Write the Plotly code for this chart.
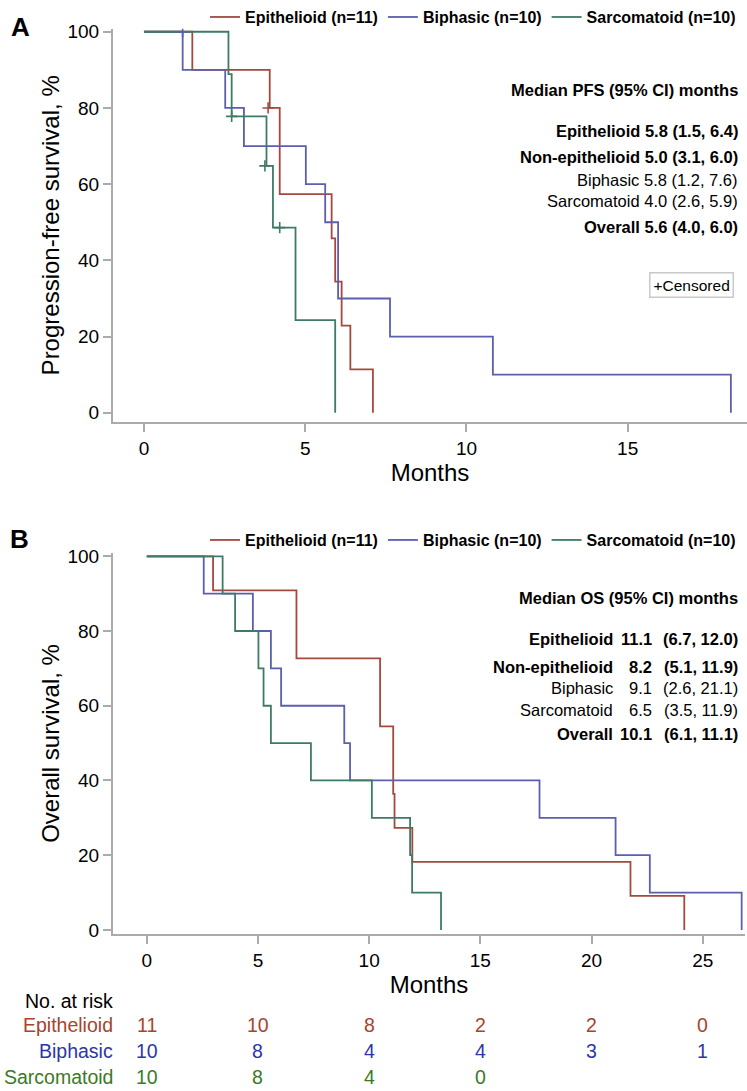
import plotly.graph_objects as go

# ---------------- data ----------------
# Progression-free survival (panel A): step times (months) and survival (%)
pfs_epi_t = [0, 1.5, 3.9, 4.21, 5.82, 5.93, 6.13, 6.4, 7.1]
pfs_epi_s = [100, 90, 80, 57.4, 45.8, 34.4, 22.9, 11.4, 0]
pfs_bi_t = [0, 1.2, 2.52, 3.1, 5.02, 5.62, 6.02, 7.63, 10.82, 18.2]
pfs_bi_s = [100, 90, 80, 70, 60, 50, 30, 20, 10, 0]
pfs_sa_t = [0, 2.62, 2.72, 3.8, 4.0, 4.7, 5.93]
pfs_sa_s = [100, 88.9, 77.8, 64.8, 48.6, 24.3, 0]

# censored observations (panel A)
cens_epi_t = [3.85]
cens_epi_s = [80]
cens_bi_t = [1.2]
cens_bi_s = [100]
cens_sa_t = [2.72, 3.75, 4.21]
cens_sa_s = [77.8, 64.8, 48.6]

# Overall survival (panel B)
os_epi_t = [0, 2.98, 6.73, 10.49, 11.08, 11.14, 11.94, 21.75, 24.17]
os_epi_s = [100, 90.9, 72.7, 54.5, 36.4, 27.3, 18.2, 9.1, 0]
os_bi_t = [0, 2.56, 4.77, 5.58, 6.04, 8.88, 9.14, 17.66, 21.08, 22.62, 26.75]
os_bi_s = [100, 90, 80, 70, 60, 50, 40, 30, 20, 10, 0]
os_sa_t = [0, 3.41, 3.97, 5.02, 5.25, 5.58, 7.38, 10.12, 11.84, 11.93, 13.23]
os_sa_s = [100, 90, 80, 70, 60, 50, 40, 30, 20, 10, 0]

group_names = ["Epithelioid (n=11)", "Biphasic (n=10)", "Sarcomatoid (n=10)"]

# numbers at risk (panel B)
risk_times = [0, 5, 10, 15, 20, 25]
risk_epi = [11, 10, 8, 2, 2, 0]
risk_bi = [10, 8, 4, 4, 3, 1]
risk_sa = [10, 8, 4, 0]
risk_labels = ["Epithelioid", "Biphasic", "Sarcomatoid"]

# median text blocks
pfs_title = "Median PFS (95% CI) months"
pfs_lines = ["Epithelioid 5.8 (1.5, 6.4)", "Non-epithelioid 5.0 (3.1, 6.0)",
             "Biphasic 5.8 (1.2, 7.6)", "Sarcomatoid 4.0 (2.6, 5.9)",
             "Overall 5.6 (4.0, 6.0)"]
os_title = "Median OS (95% CI) months"
os_names = ["Epithelioid", "Non-epithelioid", "Biphasic", "Sarcomatoid", "Overall"]
os_medians = ["11.1", "8.2", "9.1", "6.5", "10.1"]
os_cis = ["(6.7, 12.0)", "(5.1, 11.9)", "(2.6, 21.1)", "(3.5, 11.9)", "(6.1, 11.1)"]
row_bold = [True, True, False, False, True]

x_ticks_a = [0, 5, 10, 15]
x_ticks_b = [0, 5, 10, 15, 20, 25]
y_ticks = [0, 20, 40, 60, 80, 100]

# ---------------- styling ----------------
W, H = 747, 1091
ML, MR, MT, MB = 113, 0, 21, 157
PW, PH = W - ML - MR, H - MT - MB
FONT = "Arial, Liberation Sans, sans-serif"
COL = ["#a34a3e", "#5b5fae", "#3d7b68"]
RISK_COL = ["#a8442c", "#2c36a8", "#3b7a25"]
AX = "#ababab"


def py(p):  # pixel row -> paper y
    return 1 - (p - MT) / PH


def px(p):  # pixel column -> paper x
    return (p - ML) / PW


fig = go.Figure()

pfs = [(pfs_epi_t, pfs_epi_s), (pfs_bi_t, pfs_bi_s), (pfs_sa_t, pfs_sa_s)]
cens = [(cens_epi_t, cens_epi_s), (cens_bi_t, cens_bi_s), (cens_sa_t, cens_sa_s)]
oss = [(os_epi_t, os_epi_s), (os_bi_t, os_bi_s), (os_sa_t, os_sa_s)]

for i, (t, s) in enumerate(pfs):
    fig.add_trace(go.Scatter(x=t, y=s, mode="lines", line=dict(shape="hv", color=COL[i], width=1.8),
                             name=group_names[i], legend="legend", xaxis="x", yaxis="y"))
for i, (t, s) in enumerate(cens):
    fig.add_trace(go.Scatter(x=t, y=s, mode="markers", showlegend=False, xaxis="x", yaxis="y",
                             marker=dict(symbol="cross-thin", size=8, line=dict(color=COL[i], width=1.6))))
for i, (t, s) in enumerate(oss):
    fig.add_trace(go.Scatter(x=t, y=s, mode="lines", line=dict(shape="hv", color=COL[i], width=1.8),
                             name=group_names[i], legend="legend2", xaxis="x2", yaxis="y2"))

axis_common = dict(showline=True, linecolor=AX, linewidth=2, ticks="outside", ticklen=8,
                   tickwidth=1.5, tickcolor=AX, showgrid=False, zeroline=False,
                   tickfont=dict(family=FONT, size=19, color="black"))

fig.update_layout(
    width=W, height=H, margin=dict(l=ML, r=MR, t=MT, b=MB),
    paper_bgcolor="white", plot_bgcolor="white", font=dict(family=FONT, color="black"),
    xaxis=dict(domain=[0, 1], range=[-0.96, 18.7], tickvals=x_ticks_a, anchor="y",
               title=dict(text="Months", font=dict(size=24), standoff=3), **axis_common),
    yaxis=dict(domain=[py(418), py(21.7)], range=[-2.4, 100.8], tickvals=y_ticks, anchor="x",
               title=dict(text="Progression-free survival, %", font=dict(size=24), standoff=1), **axis_common),
    xaxis2=dict(domain=[0, px(745)], range=[-1.52, 26.9], tickvals=x_ticks_b, anchor="y2",
                title=dict(text="Months", font=dict(size=24), standoff=6), **axis_common),
    yaxis2=dict(domain=[py(934), py(550)], range=[-1.1, 100.9], tickvals=y_ticks, anchor="x2",
                title=dict(text="Overall survival, %", font=dict(size=24), standoff=1), **axis_common),
    legend=dict(orientation="h", x=px(741), xanchor="right", y=py(10), yanchor="middle",
                font=dict(family=FONT, size=16, color="black", weight="bold"),
                bgcolor="rgba(0,0,0,0)", itemwidth=30, tracegroupgap=0),
    legend2=dict(orientation="h", x=px(741), xanchor="right", y=py(537), yanchor="middle",
                 font=dict(family=FONT, size=16, color="black", weight="bold"),
                 bgcolor="rgba(0,0,0,0)", itemwidth=30, tracegroupgap=0),
)

ann = []
# panel letters
ann.append(dict(text="<b>A</b>", x=px(20), y=py(20), xref="paper", yref="paper", showarrow=False,
                font=dict(size=26), xanchor="center", yanchor="middle"))
ann.append(dict(text="<b>B</b>", x=px(19), y=py(536), xref="paper", yref="paper", showarrow=False,
                font=dict(size=26), xanchor="center", yanchor="middle"))

# PFS medians
ann.append(dict(text="<b>" + pfs_title + "</b>", x=px(740), y=py(83), xref="paper", yref="paper",
                showarrow=False, xanchor="right", yanchor="middle", font=dict(size=16.5)))
for line, yy, b in zip(pfs_lines, [125, 151.5, 174, 195.5, 221.5], row_bold):
    ann.append(dict(text=("<b>%s</b>" % line) if b else line, x=px(740), y=py(yy), xref="paper",
                    yref="paper", showarrow=False, xanchor="right", yanchor="middle", font=dict(size=16.5)))

# censored box
ann.append(dict(text="+Censored", x=px(691), y=py(280), xref="paper", yref="paper", showarrow=False,
                xanchor="center", yanchor="middle", font=dict(size=15.5), bordercolor="#c9c9c9",
                borderwidth=1.5, borderpad=3, bgcolor="white"))

# OS medians
ann.append(dict(text="<b>" + os_title + "</b>", x=px(740), y=py(595), xref="paper", yref="paper",
                showarrow=False, xanchor="right", yanchor="middle", font=dict(size=16.5)))
for nm, md, ci, yy, b in zip(os_names, os_medians, os_cis, [637, 665, 686.5, 708, 732.5], row_bold):
    for txt, xx in [(nm, 615), (md, 654), (ci, 740)]:
        ann.append(dict(text=("<b>%s</b>" % txt) if b else txt, x=px(xx), y=py(yy), xref="paper",
                        yref="paper", showarrow=False, xanchor="right", yanchor="middle",
                        font=dict(size=16.5)))

# risk table
ann.append(dict(text="No. at risk", x=px(115), y=py(1002), xref="paper", yref="paper", showarrow=False,
                xanchor="right", yanchor="middle", font=dict(size=19.5)))
for lab, vals, c, yy in zip(risk_labels, [risk_epi, risk_bi, risk_sa], RISK_COL, [1026, 1052, 1078]):
    ann.append(dict(text=lab, x=px(115), y=py(yy), xref="paper", yref="paper", showarrow=False,
                    xanchor="right", yanchor="middle", font=dict(size=19.5, color=c)))
    for t, v in zip(risk_times, vals):
        ann.append(dict(text=str(v), x=t, y=py(yy), xref="x2", yref="paper", showarrow=False,
                        xanchor="center", yanchor="middle", font=dict(size=19.5, color=c)))

fig.update_layout(annotations=ann)
fig.write_html("out.html", config={"displayModeBar": False},
               post_script="document.body.style.margin='0';document.body.style.overflow='hidden';")
